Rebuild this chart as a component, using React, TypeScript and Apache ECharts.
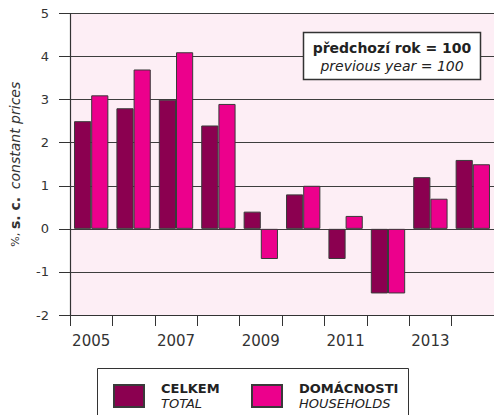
import { useEffect, useRef } from 'react';
import * as echarts from 'echarts';

const years = ['2005', '2006', '2007', '2008', '2009', '2010', '2011', '2012', '2013', '2014'];
const totalValues = [2.5, 2.8, 3.0, 2.4, 0.4, 0.8, -0.7, -1.5, 1.2, 1.6];
const householdValues = [3.1, 3.7, 4.1, 2.9, -0.7, 1.0, 0.3, -1.5, 0.7, 1.5];
const seriesNames = ['CELKEM', 'DOMÁCNOSTI'];
const seriesSubtitles = ['TOTAL', 'HOUSEHOLDS'];
const yMin = -2;
const yMax = 5;
const yStep = 1;
const noteLines = ['předchozí rok = 100', 'previous year = 100'];

const FONT = 'DejaVu Sans';
const DARK = '#8B0050';
const PINK = '#EC008C';

export default function App() {
  const ref = useRef<HTMLDivElement>(null);

  useEffect(() => {
    if (!ref.current) return;
    const chart = echarts.init(ref.current, undefined, { renderer: 'svg' });

    const legendItem = (idx: number, left: number) => ({
      data: [seriesNames[idx]],
      left,
      top: 382,
      padding: 0,
      itemWidth: 30,
      itemHeight: 22,
      icon: 'rect',
      selectedMode: false,
      formatter: (name: string) => `{b|${name}}\n{i|${seriesSubtitles[seriesNames.indexOf(name)]}}`,
      textStyle: {
        fontFamily: FONT,
        color: '#222',
        rich: {
          b: { fontFamily: FONT, fontWeight: 'bold', fontSize: 13, lineHeight: 15, color: '#222', padding: [0, 0, 0, 12] },
          i: { fontFamily: FONT, fontStyle: 'italic', fontSize: 13, lineHeight: 15, color: '#222', padding: [0, 0, 0, 12] },
        },
      },
    });

    chart.setOption({
      animation: false,
      textStyle: { fontFamily: FONT },
      grid: {
        left: 70,
        top: 13.5,
        width: 430,
        height: 301.5,
        show: true,
        backgroundColor: '#FDEEF5',
        borderWidth: 0,
        containLabel: false,
      },
      legend: [legendItem(0, 113), legendItem(1, 251)],
      xAxis: {
        type: 'category',
        data: years,
        boundaryGap: true,
        axisLine: { show: true, onZero: false, lineStyle: { color: '#333', width: 1.2 } },
        axisTick: { show: true, interval: 0, length: 11, lineStyle: { color: '#333', width: 1 } },
        axisLabel: { interval: 1, margin: 18, fontSize: 15, color: '#333', fontFamily: FONT },
        splitLine: { show: false },
      },
      yAxis: {
        type: 'value',
        min: yMin,
        max: yMax,
        interval: yStep,
        name: '{p|%,} {b|s. c.}  {i|constant prices}',
        nameLocation: 'middle',
        nameRotate: 90,
        nameGap: 48,
        nameTextStyle: {
          color: '#333',
          rich: {
            p: { fontFamily: FONT, fontSize: 11, color: '#333' },
            b: { fontFamily: FONT, fontSize: 14, fontWeight: 'bold', color: '#333' },
            i: { fontFamily: FONT, fontSize: 14, fontStyle: 'italic', color: '#333' },
          },
        },
        axisLine: { show: true, lineStyle: { color: '#333', width: 1.2 } },
        axisTick: { show: true, length: 11, lineStyle: { color: '#333', width: 1 } },
        axisLabel: { margin: 21, fontSize: 13, color: '#333', fontFamily: FONT },
        splitLine: { show: true, lineStyle: { color: '#3d3d3d', width: 1 } },
      },
      series: [
        {
          name: seriesNames[0],
          type: 'bar',
          data: totalValues,
          barGap: '0%',
          barCategoryGap: '19%',
          itemStyle: { color: DARK, borderColor: '#3a3a3a', borderWidth: 1 },
        },
        {
          name: seriesNames[1],
          type: 'bar',
          data: householdValues,
          barGap: '0%',
          barCategoryGap: '19%',
          itemStyle: { color: PINK, borderColor: '#3a3a3a', borderWidth: 1 },
        },
      ],
      graphic: [
        {
          type: 'rect',
          z: 1,
          shape: { x: 97.5, y: 368.5, width: 311, height: 80 },
          style: { fill: '#fff', stroke: '#333', lineWidth: 1 },
        },
        {
          type: 'rect',
          z: 10,
          shape: { x: 303.5, y: 32.5, width: 177, height: 47 },
          style: { fill: '#fff', stroke: '#333', lineWidth: 1.5 },
        },
        {
          type: 'text',
          z: 11,
          x: 392,
          y: 48,
          style: {
            text: noteLines[0],
            fontFamily: FONT,
            fontSize: 14,
            fontWeight: 'bold',
            fill: '#222',
            align: 'center',
            verticalAlign: 'middle',
          },
        },
        {
          type: 'text',
          z: 11,
          x: 392,
          y: 66,
          style: {
            text: noteLines[1],
            fontFamily: FONT,
            fontSize: 14,
            fontStyle: 'italic',
            fill: '#222',
            align: 'center',
            verticalAlign: 'middle',
          },
        },
      ],
    });

    return () => chart.dispose();
  }, []);

  return (
    <div
      ref={ref}
      style={{ position: 'fixed', left: 0, top: 0, width: 494, height: 415, background: '#fff' }}
    />
  );
}
